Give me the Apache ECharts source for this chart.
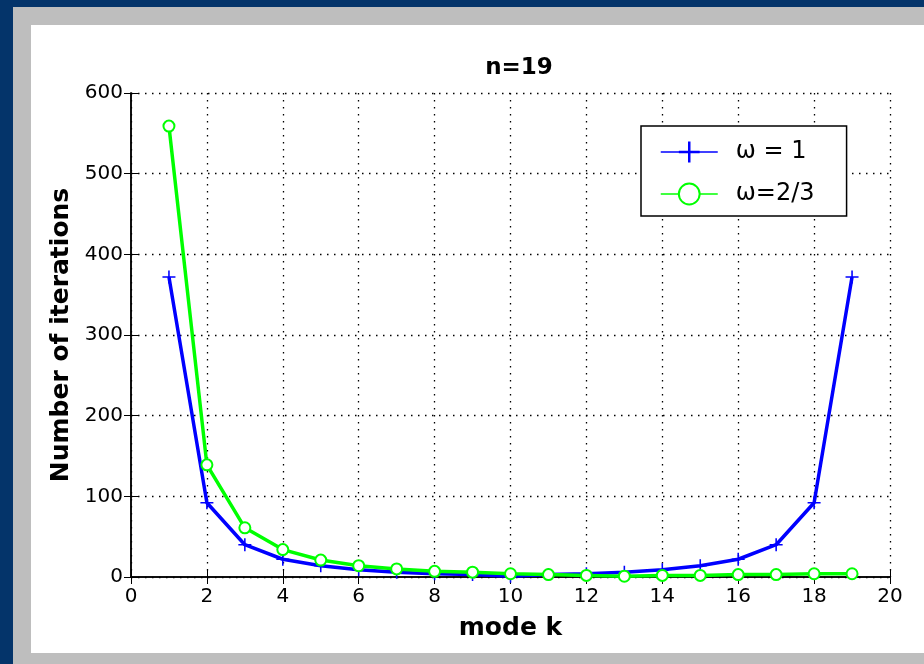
<!DOCTYPE html>
<html lang="en">
<head>
    <meta charset="UTF-8">
    <title>n=19</title>
    <script src="https://cdn.jsdelivr.net/npm/echarts@6.0.0/dist/echarts.min.js"></script>
    <style>
        body { margin: 0; background: #04346a; }
        #gray { position: absolute; left: 13px; top: 7px; width: 911px; height: 657px; background: #bebebe; }
        #white { position: absolute; left: 31px; top: 25px; width: 893px; height: 628px; background: #ffffff; }
        #main { position: absolute; left: 0; top: 0; width: 924px; height: 664px; }
    </style>
</head>
<body>
    <div id="gray"></div>
    <div id="white"></div>
    <div id="main"></div>
    <script type="text/javascript">
        // mode k = 1..19
        const modes = [1, 2, 3, 4, 5, 6, 7, 8, 9, 10, 11, 12, 13, 14, 15, 16, 17, 18, 19];
        // iterations for omega = 1
        const iterOmega1 = [372, 92, 40, 22, 14, 9, 6, 4, 3, 1, 3, 4, 6, 9, 14, 22, 40, 92, 372];
        // iterations for omega = 2/3
        const iterOmega23 = [559, 139, 61, 34, 21, 14, 10, 7, 6, 4, 3, 2, 1, 2, 2, 3, 3, 4, 4];

        const font = '"DejaVu Sans", sans-serif';
        const plusPath = 'path://M0,4.4H10V5.6H0Z M4.4,0H5.6V10H4.4Z';

        var chart = echarts.init(document.getElementById('main'));
        var option = {
            backgroundColor: 'transparent',
            animation: false,
            title: {
                text: 'n=19',
                left: 514,
                top: 52,
                textAlign: 'center',
                textStyle: { fontFamily: font, fontSize: 23, fontWeight: 'bold', color: '#000' }
            },
            grid: { left: 131, right: 34, top: 93, bottom: 87 },
            legend: {
                orient: 'vertical',
                left: 641,
                top: 126,
                padding: [14, 32, 10, 19],
                itemGap: 18,
                itemWidth: 57,
                itemHeight: 26,
                borderColor: '#000',
                borderWidth: 1.5,
                backgroundColor: '#fff',
                lineStyle: { width: 1.5 },
                textStyle: { fontFamily: font, fontSize: 24, color: '#000', padding: [0, 0, 0, 13] },
                data: ['\u03c9 = 1', '\u03c9=2/3']
            },
            xAxis: [{
                type: 'value',
                min: 0, max: 20, interval: 2,
                name: 'mode k',
                nameLocation: 'middle',
                nameGap: 39,
                nameTextStyle: { fontFamily: font, fontSize: 25, fontWeight: 'bold', color: '#000' },
                axisLine: { lineStyle: { color: '#000', width: 1.5 } },
                axisTick: { inside: true, length: 7, lineStyle: { color: '#000' } },
                axisLabel: { fontFamily: font, fontSize: 20, color: '#000', margin: 10 },
                splitLine: { show: true, lineStyle: { color: '#000', type: [1.5, 5.5], width: 1.3 } }
            }, {
                type: 'value', position: 'top',
                min: 0, max: 20, interval: 2,
                axisLine: { lineStyle: { color: '#000', width: 1.5 } },
                axisTick: { inside: true, length: 7, lineStyle: { color: '#000' } },
                axisLabel: { show: false },
                splitLine: { show: false }
            }],
            yAxis: [{
                type: 'value',
                min: 0, max: 600, interval: 100,
                name: 'Number of iterations',
                nameLocation: 'middle',
                nameGap: 56,
                nameTextStyle: { fontFamily: font, fontSize: 25, fontWeight: 'bold', color: '#000' },
                axisLine: { show: true, lineStyle: { color: '#000', width: 1.5 } },
                axisTick: { show: true, inside: true, length: 7, lineStyle: { color: '#000' } },
                axisLabel: { fontFamily: font, fontSize: 20, color: '#000', margin: 8 },
                splitLine: { show: true, lineStyle: { color: '#000', type: [1.5, 5.5], width: 1.3 } }
            }, {
                type: 'value', position: 'right',
                min: 0, max: 600, interval: 100,
                axisLine: { show: true, lineStyle: { color: '#000', width: 1.5 } },
                axisTick: { show: true, inside: true, length: 7, lineStyle: { color: '#000' } },
                axisLabel: { show: false },
                splitLine: { show: false }
            }],
            series: [{
                name: '\u03c9 = 1',
                type: 'line',
                data: modes.map((k, i) => [k, iterOmega1[i]]),
                color: '#0000ff',
                lineStyle: { color: '#0000ff', width: 3.5 },
                symbol: plusPath,
                symbolSize: 13,
                itemStyle: { color: '#0000ff' }
            }, {
                name: '\u03c9=2/3',
                type: 'line',
                data: modes.map((k, i) => [k, iterOmega23[i]]),
                color: '#00ff00',
                lineStyle: { color: '#00ff00', width: 3.5 },
                symbol: 'emptyCircle',
                symbolSize: 11,
                itemStyle: { color: '#00ff00', borderColor: '#00ff00', borderWidth: 2 }
            }]
        };
        chart.setOption(option);
    </script>
</body>
</html>
